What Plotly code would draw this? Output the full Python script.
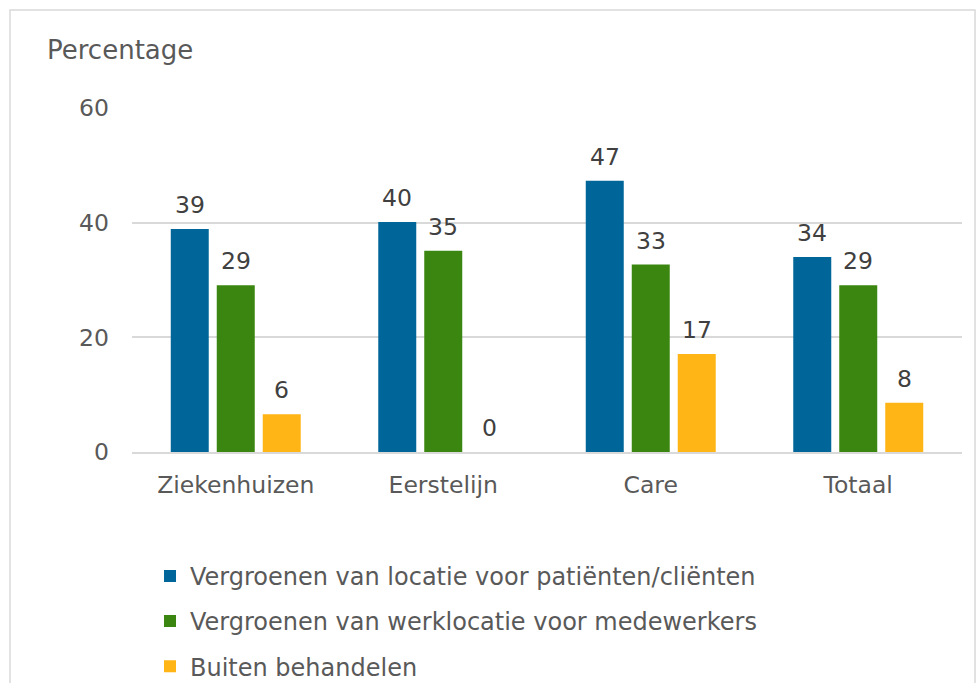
import plotly.graph_objects as go

categories = ["Ziekenhuizen", "Eerstelijn", "Care", "Totaal"]
series_names = [
    "Vergroenen van locatie voor patiënten/cliënten",
    "Vergroenen van werklocatie voor medewerkers",
    "Buiten behandelen",
]
vals_patient = [38.9, 40.1, 47.3, 34.0]
vals_werk = [29.1, 35.1, 32.7, 29.1]
vals_buiten = [6.6, 0, 17.1, 8.6]
labels_patient = ["39", "40", "47", "34"]
labels_werk = ["29", "35", "33", "29"]
labels_buiten = ["6", "0", "17", "8"]
y_ticks = [0, 20, 40, 60]

colors = ["#006699", "#3B8610", "#FFB515"]
FONT = "DejaVu Sans, Verdana, sans-serif"
SLOT = 46  # pixel width of one bar slot within a group

fig = go.Figure()
annotations = []
all_vals = [vals_patient, vals_werk, vals_buiten]
all_labs = [labels_patient, labels_werk, labels_buiten]
for i, (name, vals, labs) in enumerate(zip(series_names, all_vals, all_labs)):
    fig.add_trace(go.Bar(
        x=categories, y=vals, name=name,
        marker=dict(color=colors[i], line=dict(width=0)),
        legendgroup=f"g{i}",
        hoverinfo="skip",
    ))
    for c, v, t in zip(categories, vals, labs):
        annotations.append(dict(
            x=c, y=v, xref="x", yref="y", text=t, showarrow=False,
            xanchor="center", yanchor="middle", xshift=(i - 1) * SLOT, yshift=24,
            font=dict(family=FONT, size=23.5, color="#404040"),
        ))

annotations.append(dict(
    text="Percentage", xref="paper", yref="paper", x=-0.1048, y=1.1686,
    xanchor="left", yanchor="middle", showarrow=False,
    font=dict(family=FONT, size=26, color="#595959"),
))

fig.update_layout(
    width=978, height=683,
    margin=dict(l=132, r=16, t=108, b=231, autoexpand=False),
    paper_bgcolor="white", plot_bgcolor="white",
    barmode="group", bargap=0.335, bargroupgap=0.174,
    font=dict(family=FONT, size=23.5, color="#595959"),
    showlegend=True,
    legend=dict(
        orientation="v", x=0.0217, xanchor="left", y=-0.296, yanchor="top",
        font=dict(family=FONT, size=24, color="#595959"),
        tracegroupgap=11, itemwidth=30,
    ),
    yaxis=dict(
        range=[0, 60], tickvals=y_ticks, showgrid=True, gridcolor="#D9D9D9",
        gridwidth=1.5, zeroline=False, showline=False, ticks="",
        ticklabelstandoff=22, tickfont=dict(family=FONT, size=23.5, color="#595959"),
    ),
    xaxis=dict(
        showline=True, linecolor="#D9D9D9", linewidth=1.5, ticks="",
        ticklabelstandoff=11, tickfont=dict(family=FONT, size=23.5, color="#595959"),
    ),
    annotations=annotations,
    shapes=[dict(
        type="rect", xref="paper", yref="paper", x0=-0.147, x1=1.0157,
        y0=-0.75, y1=1.285, line=dict(color="#D9D9D9", width=1.5),
        fillcolor="rgba(0,0,0,0)", layer="below",
    )],
)

fig.write_html("out.html", config={"displayModeBar": False},
               post_script="document.body.style.margin='0';")
